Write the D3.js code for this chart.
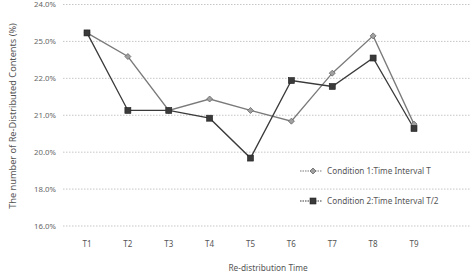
<!DOCTYPE html>
<html><head><meta charset="utf-8">
<script src="https://cdn.jsdelivr.net/npm/d3@7"></script>
<style>body{margin:0;background:#fff}svg{display:block}text{font-family:"Noto Sans","DejaVu Sans",sans-serif}</style>
</head><body>
<svg id="c" width="475" height="276"></svg>
<script>
const categories = ["T1","T2","T3","T4","T5","T6","T7","T8","T9"];
const cond1 = [23.23, 22.59, 21.13, 21.44, 21.13, 20.84, 22.14, 23.15, 20.76];
const cond2 = [23.23, 21.13, 21.13, 20.92, 19.84, 21.94, 21.78, 22.55, 20.64];
const tickValues = [24, 23, 22, 21, 20, 19, 18];
const tickLabels = ["24.0%", "25.0%", "22.0%", "21.0%", "20.0%", "18.0%", "16.0%"];
const seriesNames = ["Condition 1:Time Interval T", "Condition 2:Time Interval T/2"];

const svg = d3.select("#c");
const x = d3.scalePoint().domain(categories).range([87, 414]);
const y = d3.scaleLinear().domain([18, 24]).range([226, 4.5]);
const gridL = 63, gridR = 470;

// gridlines
svg.append("g").selectAll("line").data(tickValues).join("line")
  .attr("x1", gridL).attr("x2", gridR)
  .attr("y1", d => y(d)).attr("y2", d => y(d))
  .attr("stroke", "#b8b8b8").attr("stroke-width", 0.8).attr("stroke-dasharray", "1.5,1.5");

// y tick labels
svg.append("g").selectAll("text").data(tickValues).join("text")
  .attr("x", 56).attr("y", d => y(d)).attr("dy", "0.35em")
  .attr("text-anchor", "end").attr("font-size", 7.8).attr("fill", "#666")
  .text((d, i) => tickLabels[i]);

// x tick labels
svg.append("g").selectAll("text").data(categories).join("text")
  .attr("x", d => x(d)).attr("y", 247)
  .attr("text-anchor", "middle").attr("font-size", 8).attr("fill", "#555")
  .text(d => d);

// axis titles
svg.append("text").attr("x", 268).attr("y", 271).attr("text-anchor", "middle")
  .attr("font-size", 8.3).attr("fill", "#555").text("Re-distribution Time");
svg.append("text").attr("transform", "translate(16,116) rotate(-90)").attr("text-anchor", "middle")
  .attr("font-size", 9.2).attr("fill", "#555").text("The number of Re-Distributed Contents (%)");

const line = d3.line().x((d, i) => x(categories[i])).y(d => y(d));

const series = [
  {vals: cond1, color: "#7a7a7a", marker: "diamond"},
  {vals: cond2, color: "#3a3a3a", marker: "square"}
];

function drawMarker(g, type, cx, cy) {
  if (type === "diamond") {
    g.append("path").attr("d", `M${cx},${cy-3}L${cx+3},${cy}L${cx},${cy+3}L${cx-3},${cy}Z`)
      .attr("fill", "#a0a0a0").attr("stroke", "#666").attr("stroke-width", 0.8);
  } else {
    g.append("rect").attr("x", cx-3).attr("y", cy-3).attr("width", 6).attr("height", 6)
      .attr("fill", "#3a3a3a").attr("stroke", "#222").attr("stroke-width", 0.6);
  }
}

series.forEach(s => {
  svg.append("path").datum(s.vals).attr("d", line)
    .attr("fill", "none").attr("stroke", s.color).attr("stroke-width", 1.3);
});
series.forEach(s => {
  const g = svg.append("g");
  s.vals.forEach((v, i) => drawMarker(g, s.marker, x(categories[i]), y(v)));
});

// legend
const legY = [171, 201];
series.forEach((s, i) => {
  const g = svg.append("g");
  g.append("line").attr("x1", 300).attr("x2", 322).attr("y1", legY[i]).attr("y2", legY[i])
    .attr("stroke", s.color).attr("stroke-width", 1.1).attr("stroke-dasharray", "1.5,1");
  drawMarker(g, s.marker, 313, legY[i]);
  g.append("text").attr("x", 327).attr("y", legY[i]).attr("dy", "0.35em")
    .attr("font-size", 8.2).attr("fill", "#555").text(seriesNames[i]);
});
</script>
</body></html>
